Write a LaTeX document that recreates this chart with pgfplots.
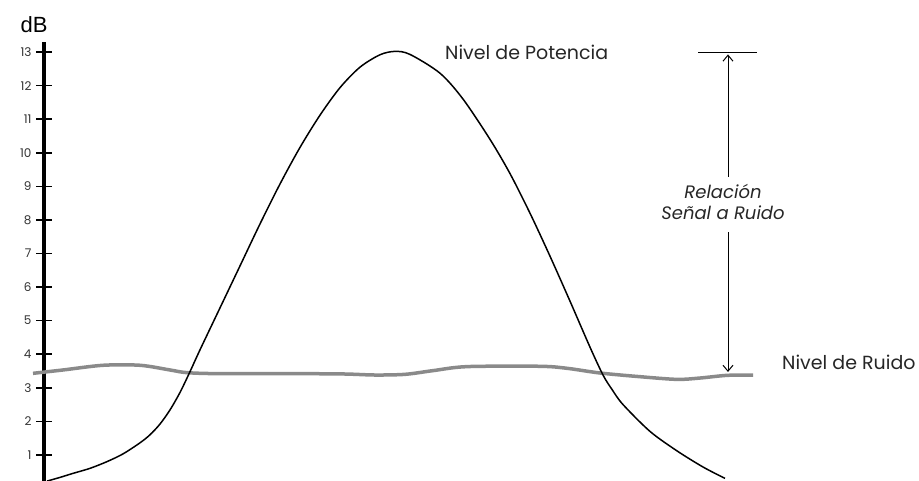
\documentclass[border=0pt]{standalone}
\usepackage{pgfplots}
\pgfplotsset{compat=1.18}
\usetikzlibrary{arrows.meta}
\usepackage{fontspec}
\setmainfont{Poppins}
\newfontfamily\arialf{Liberation Sans}
\begin{document}
\begin{tikzpicture}[x=1pt,y=1pt]
\useasboundingbox (0,0) rectangle (919,481);
\begin{axis}[
  at={(44pt,0pt)}, anchor=south west,
  scale only axis, width=748pt, height=439pt,
  xmin=44, xmax=792, ymin=0.223, ymax=13.3,
  axis x line=bottom, axis y line=left,
  x axis line style={-, gray!35, line width=0.8pt},
  y axis line style={-, black, line width=4pt},
  xtick=\empty,
  ytick={1,2,3,4,5,6,7,8,9,10,11,12,13},
  tick align=center, major tick length=16pt,
  ytick style={black, line width=1.5pt},
  yticklabel style={font=\fontsize{12}{12}\selectfont, text=black!80, xshift=-1pt},
  /pgf/number format/assume math mode=true,
  clip=false,
]
\addplot[color={rgb,255:red,138;green,138;blue,138}, line width=3.5pt, smooth] coordinates {
(33,3.43) (63,3.53) (103,3.67) (140,3.67) (170,3.53) (187,3.45) (220,3.42) (300,3.42) (345,3.41) (375,3.38) (405,3.40) (433,3.51) (467,3.63) (540,3.64) (567,3.58) (600,3.44) (640,3.33) (677,3.25) (700,3.29) (727,3.37) (753,3.38)
};
\addplot[black, line width=1.5pt, smooth] coordinates {
(47,0.22) (60,0.33) (73,0.45) (90,0.60) (107,0.80) (123,1.03) (140,1.36) (150,1.60) (160,1.92) (170,2.34) (180,2.86) (190,3.48) (200,4.13) (220,5.38) (240,6.63) (260,7.88) (280,9.07) (300,10.16) (320,11.12) (340,11.94) (360,12.55) (380,12.92) (395,13.02) (410,12.93) (440,12.37) (463,11.60) (490,10.40) (510,9.38) (530,8.20) (550,6.92) (570,5.58) (590,4.21) (603,3.38) (612,2.95) (623,2.50) (650,1.70) (677,1.12) (703,0.64) (725,0.30)
};
\draw[black, line width=1pt] (axis cs:698,13.0) -- (axis cs:757,13.0);
\draw[black, line width=1pt, -{Straight Barb[length=6pt,width=10pt]}] (axis cs:728,9.28) -- (axis cs:728,12.93);
\draw[black, line width=1pt, -{Straight Barb[length=6pt,width=10pt]}] (axis cs:728,7.64) -- (axis cs:728,3.47);
\node[anchor=west, inner sep=0pt, font=\fontsize{19}{19}\selectfont, text=black!85] at (axis cs:445,12.99) {Nivel de Potencia};
\node[anchor=west, inner sep=0pt, font=\fontsize{19}{19}\selectfont, text=black!85] at (axis cs:782,3.77) {Nivel de Ruido};
\node[align=center, inner sep=0pt, font=\fontsize{18}{21}\selectfont\itshape, text=black!85] at (axis cs:723,8.53) {Relación\\Señal a Ruido};
\node[inner sep=0pt, font=\arialf\fontsize{22}{22}\selectfont] at (axis cs:34,13.82) {dB};
\end{axis}
\end{tikzpicture}
\end{document}
